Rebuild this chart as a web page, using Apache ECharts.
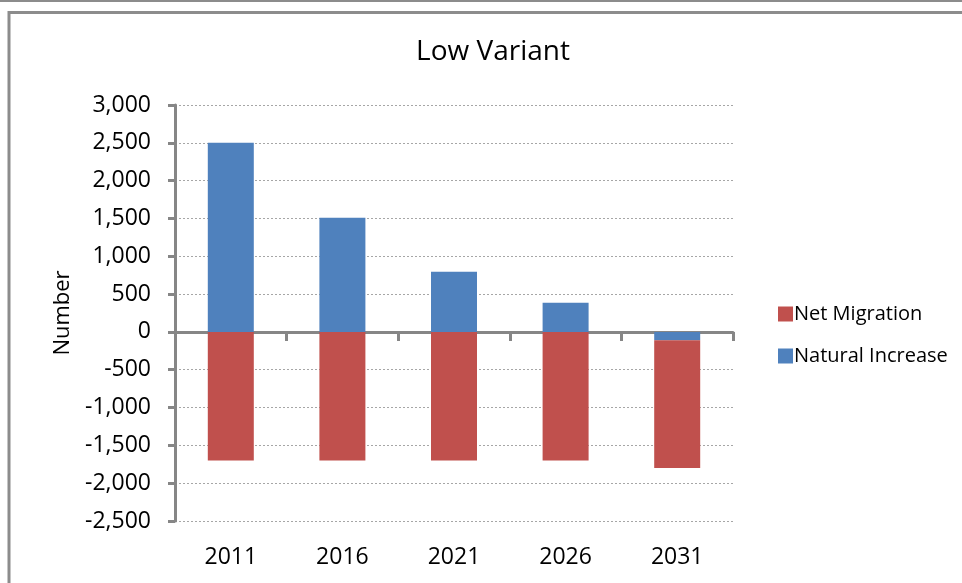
<!DOCTYPE html>
<html>
<head>
<meta charset="utf-8">
<script src="https://cdn.jsdelivr.net/npm/echarts@6/dist/echarts.min.js"></script>
<style>
  html, body { margin: 0; padding: 0; background: #fff; }
  #chart { width: 962px; height: 583px; }
</style>
</head>
<body>
<div id="chart"></div>
<script>
// Projected population change components, low variant
const years = ['2011', '2016', '2021', '2026', '2031'];
const naturalIncrease = [2500, 1510, 795, 385, -110];
const netMigration = [-1700, -1700, -1700, -1700, -1690];
const yTicks = { min: -2500, max: 3000, step: 500 };

const FONT = 'Open Sans';
const AXIS_GREY = '#868686';

const chart = echarts.init(document.getElementById('chart'), null, { renderer: 'canvas' });

const fmt = v => {
  const s = Math.abs(v).toLocaleString('en-US');
  return v < 0 ? '-' + s : s;
};

chart.setOption({
  animation: false,
  backgroundColor: '#fff',
  textStyle: { fontFamily: FONT, color: '#000' },
  title: {
    text: 'Low Variant',
    left: 488,
    top: 33,
    textAlign: 'center',
    textStyle: { fontFamily: FONT, fontSize: 28, fontWeight: 'normal', color: '#000' }
  },
  legend: {
    orient: 'vertical',
    left: 773,
    top: 299,
    itemWidth: 15,
    itemHeight: 15,
    itemGap: 22,
    icon: 'rect',
    data: ['Net Migration', 'Natural Increase'],
    textStyle: { fontFamily: FONT, fontSize: 20, color: '#000', padding: [0, 0, 0, -4] }
  },
  grid: { left: 175, right: 229, top: 105, bottom: 62, containLabel: false },
  xAxis: [
    {
      type: 'category',
      data: years,
      position: 'bottom',
      axisLine: { show: false, onZero: false },
      axisTick: { show: false },
      axisLabel: { fontFamily: FONT, fontSize: 23, color: '#000', margin: 25 }
    },
    {
      type: 'category',
      data: years,
      position: 'bottom',
      axisLine: { show: true, onZero: true, lineStyle: { color: AXIS_GREY, width: 3 } },
      axisTick: { show: true, length: 9, lineStyle: { color: AXIS_GREY, width: 3 } },
      axisLabel: { show: false }
    }
  ],
  yAxis: {
    type: 'value',
    min: yTicks.min,
    max: yTicks.max,
    interval: yTicks.step,
    name: 'Number',
    nameLocation: 'middle',
    nameGap: 101,
    nameRotate: 90,
    nameTextStyle: { fontFamily: FONT, fontSize: 22, color: '#000' },
    axisLine: { show: true, lineStyle: { color: AXIS_GREY, width: 3 } },
    axisTick: { show: true, length: 7, lineStyle: { color: AXIS_GREY, width: 3 } },
    axisLabel: { fontFamily: FONT, fontSize: 23, color: '#000', margin: 24, formatter: fmt },
    splitLine: { show: true, lineStyle: { color: '#a6a6a6', width: 1, type: [2, 2] } }
  },
  series: [
    {
      name: 'Natural Increase',
      type: 'bar',
      stack: 'total',
      barWidth: 46,
      data: naturalIncrease,
      itemStyle: { color: '#4F81BD' }
    },
    {
      name: 'Net Migration',
      type: 'bar',
      stack: 'total',
      barWidth: 46,
      data: netMigration,
      itemStyle: { color: '#C0504D' }
    }
  ],
  graphic: [
    { type: 'line', shape: { x1: 0, y1: 1, x2: 962, y2: 1 }, style: { stroke: '#8c8c8c', lineWidth: 2 }, silent: true },
    { type: 'rect', shape: { x: 9, y: 12.5, width: 1000, height: 620 }, style: { fill: 'none', stroke: '#8c8c8c', lineWidth: 3 }, silent: true }
  ]
});
</script>
</body>
</html>
